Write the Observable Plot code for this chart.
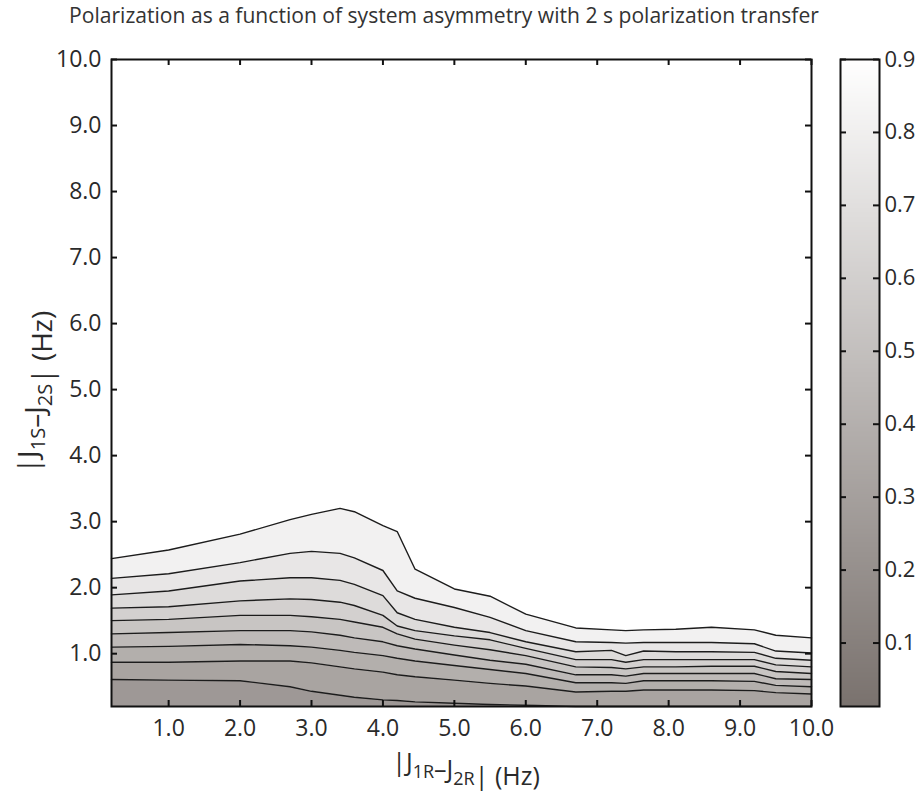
<!DOCTYPE html>
<html><head><meta charset="utf-8">
<script src="https://cdn.jsdelivr.net/npm/d3@7"></script>
<script src="https://cdn.jsdelivr.net/npm/@observablehq/plot@0.6"></script>
<style>
body{margin:0;background:#fff;}
#wrap{position:relative;width:924px;height:796px;}
#main{position:absolute;left:0;top:0;}
#cbar{position:absolute;left:830px;top:0;}
</style></head><body><div id="wrap"><div id="main"></div><div id="cbar"></div></div>
<script>
// ---- data ----
const titleText = "Polarization as a function of system asymmetry with 2 s polarization transfer";
const xGrid = [0.2, 1.0, 2.0, 2.7, 3.0, 3.4, 3.6, 4.0, 4.2, 4.45, 5.0, 5.5, 6.0, 6.7, 7.2, 7.4, 7.65, 8.1, 8.6, 9.2, 9.5, 10.0];
const contour1 = [2.44, 2.57, 2.81, 3.03, 3.11, 3.20, 3.15, 2.94, 2.85, 2.28, 1.98, 1.87, 1.60, 1.39, 1.36, 1.35, 1.36, 1.37, 1.40, 1.36, 1.28, 1.24];
const contour2 = [2.14, 2.21, 2.38, 2.52, 2.55, 2.52, 2.45, 2.26, 1.95, 1.84, 1.70, 1.55, 1.35, 1.18, 1.17, 1.16, 1.17, 1.17, 1.17, 1.15, 1.04, 1.01];
const contour3 = [1.89, 1.95, 2.10, 2.15, 2.15, 2.11, 2.05, 1.88, 1.62, 1.52, 1.40, 1.32, 1.18, 1.03, 1.05, 0.97, 1.04, 1.03, 1.03, 1.02, 0.93, 0.90];
const contour4 = [1.69, 1.71, 1.80, 1.83, 1.82, 1.78, 1.73, 1.58, 1.42, 1.35, 1.27, 1.21, 1.08, 0.91, 0.91, 0.87, 0.91, 0.91, 0.91, 0.91, 0.83, 0.80];
const contour5 = [1.50, 1.52, 1.58, 1.58, 1.56, 1.52, 1.48, 1.40, 1.30, 1.22, 1.13, 1.06, 0.97, 0.80, 0.79, 0.77, 0.80, 0.80, 0.81, 0.81, 0.73, 0.70];
const contour6 = [1.30, 1.32, 1.35, 1.35, 1.33, 1.28, 1.24, 1.18, 1.12, 1.07, 0.98, 0.90, 0.84, 0.68, 0.68, 0.66, 0.70, 0.70, 0.70, 0.70, 0.62, 0.61];
const contour7 = [1.10, 1.11, 1.14, 1.12, 1.10, 1.05, 1.02, 0.97, 0.93, 0.89, 0.82, 0.76, 0.70, 0.56, 0.56, 0.55, 0.59, 0.59, 0.59, 0.58, 0.52, 0.50];
const contour8 = [0.87, 0.87, 0.89, 0.89, 0.86, 0.80, 0.77, 0.72, 0.68, 0.65, 0.60, 0.55, 0.51, 0.42, 0.43, 0.43, 0.45, 0.45, 0.45, 0.44, 0.41, 0.39];
const contour9 = [0.61, 0.60, 0.59, 0.50, 0.43, 0.37, 0.34, 0.30, 0.29, 0.27, 0.25, 0.23, 0.22, 0.20, 0.20, 0.20, 0.20, 0.20, 0.20, 0.20, 0.20, 0.20];
const contourLevels = [0.85, 0.78, 0.71, 0.64, 0.57, 0.50, 0.43, 0.36, 0.29];
const bandValues = [0.9, 0.815, 0.745, 0.675, 0.605, 0.535, 0.465, 0.395, 0.325, 0.255];
const xTicks = [1, 2, 3, 4, 5, 6, 7, 8, 9, 10];
const yTicks = [1, 2, 3, 4, 5, 6, 7, 8, 9, 10];
const cbarTicks = [0.1, 0.2, 0.3, 0.4, 0.5, 0.6, 0.7, 0.8, 0.9];
const xDomain = [0.2, 10];
const yDomain = [0.2, 10];
const cDomain = [0.013, 0.9];

// ---- tables built from the arrays ----
const contours = [contour1, contour2, contour3, contour4, contour5, contour6, contour7, contour8, contour9];
const lineRows = contours.flatMap((ys, i) => xGrid.map((x, j) => ({level: contourLevels[i], x, y: ys[j]})));
const bandRows = bandValues.flatMap((v, k) => xGrid.map((x, j) => ({
  band: k, value: v, x,
  hi: k === 0 ? yDomain[1] : contours[k - 1][j],
  lo: k === contours.length ? yDomain[0] : contours[k][j]
})));

const colorScale = {type: "linear", domain: cDomain, range: ["#7a726e", "#ffffff"]};
const FONT = "'Open Sans', sans-serif";
const W = 924, H = 796, ML = 111, MR = 113, MT = 59, MB = 90;
const innerW = W - ML - MR, innerH = H - MT - MB;
const fmt = d3.format(".1f");

const main = Plot.plot({
  width: W, height: H,
  marginLeft: ML, marginRight: MR, marginTop: MT, marginBottom: MB,
  style: {fontFamily: FONT, fontSize: "23px", color: "#2a2a2a", background: "transparent"},
  x: {domain: xDomain},
  y: {domain: yDomain},
  color: colorScale,
  marks: [
    Plot.areaY(bandRows, {x: "x", y1: "lo", y2: "hi", z: "band", fill: "value", curve: "linear"}),
    Plot.line(lineRows, {x: "x", y: "y", z: "level", stroke: "#1c1c1c", strokeWidth: 1.4, curve: "linear"}),
    Plot.tickX(xTicks, {x: d => d, stroke: "#111", strokeWidth: 2, insetTop: innerH - 6}),
    Plot.tickX(xTicks, {x: d => d, stroke: "#111", strokeWidth: 2, insetBottom: innerH - 6}),
    Plot.tickY(yTicks, {y: d => d, stroke: "#111", strokeWidth: 2, insetRight: innerW - 6}),
    Plot.tickY(yTicks, {y: d => d, stroke: "#111", strokeWidth: 2, insetLeft: innerW - 6}),
    Plot.axisX(xTicks, {anchor: "bottom", tickSize: 0, tickPadding: 13, tickFormat: fmt, label: null, fontSize: 23}),
    Plot.axisY(yTicks, {anchor: "left", tickSize: 0, tickPadding: 10, tickFormat: fmt, label: null, fontSize: 23}),
    Plot.frame({stroke: "#111", strokeWidth: 2})
  ]
});
document.getElementById("main").appendChild(main);

const cbar = Plot.plot({
  width: 94, height: H,
  marginLeft: 10, marginRight: 45, marginTop: MT, marginBottom: MB,
  style: {fontFamily: FONT, fontSize: "22px", color: "#2a2a2a", background: "transparent"},
  x: {domain: [0, 1], axis: null},
  y: {domain: cDomain, axis: null},
  color: colorScale,
  marks: [
    Plot.raster({x1: 0, x2: 1, y1: cDomain[0], y2: cDomain[1], width: 2, height: 400, fill: (x, y) => y, imageRendering: "auto"}),
    Plot.tickY(cbarTicks, {y: d => d, stroke: "#111", strokeWidth: 2, insetRight: 33}),
    Plot.tickY(cbarTicks, {y: d => d, stroke: "#111", strokeWidth: 2, insetLeft: 33}),
    Plot.axisY(cbarTicks, {anchor: "right", tickSize: 0, tickPadding: 5, tickFormat: fmt, label: null, fontSize: 22}),
    Plot.frame({stroke: "#111", strokeWidth: 2})
  ]
});
document.getElementById("cbar").appendChild(cbar);

// ---- title and axis labels with subscripts ----
const svg = d3.select(main);
const t = svg.append("text")
  .attr("x", 444).attr("y", 23).attr("text-anchor", "middle")
  .attr("font-family", FONT).attr("font-size", 18).attr("fill", "#333")
  .text(titleText);
const len = t.node().getComputedTextLength();
if (len > 0) t.attr("font-size", (18 * 750 / len).toFixed(2));

function labelWithSubs(sel, parts) {
  parts.forEach(([txt, sub]) => {
    if (sub) {
      sel.append("tspan").attr("dy", 7).attr("font-size", "0.72em").text(txt);
      sel.append("tspan").attr("dy", -7).text("");
    } else sel.append("tspan").text(txt);
  });
}
const xl = svg.append("text")
  .attr("x", 466).attr("y", 771).attr("text-anchor", "middle")
  .attr("font-family", FONT).attr("font-size", 25).attr("fill", "#2a2a2a");
labelWithSubs(xl, [["|J"], ["1R", true], ["\u2013J"], ["2R", true], ["| (Hz)"]]);
const yl = svg.append("text")
  .attr("transform", "translate(38,392) rotate(-90)").attr("text-anchor", "middle")
  .attr("font-family", FONT).attr("font-size", 28).attr("fill", "#2a2a2a");
labelWithSubs(yl, [["|J"], ["1S", true], ["\u2013J"], ["2S", true], ["| (Hz)"]]);
</script></body></html>
